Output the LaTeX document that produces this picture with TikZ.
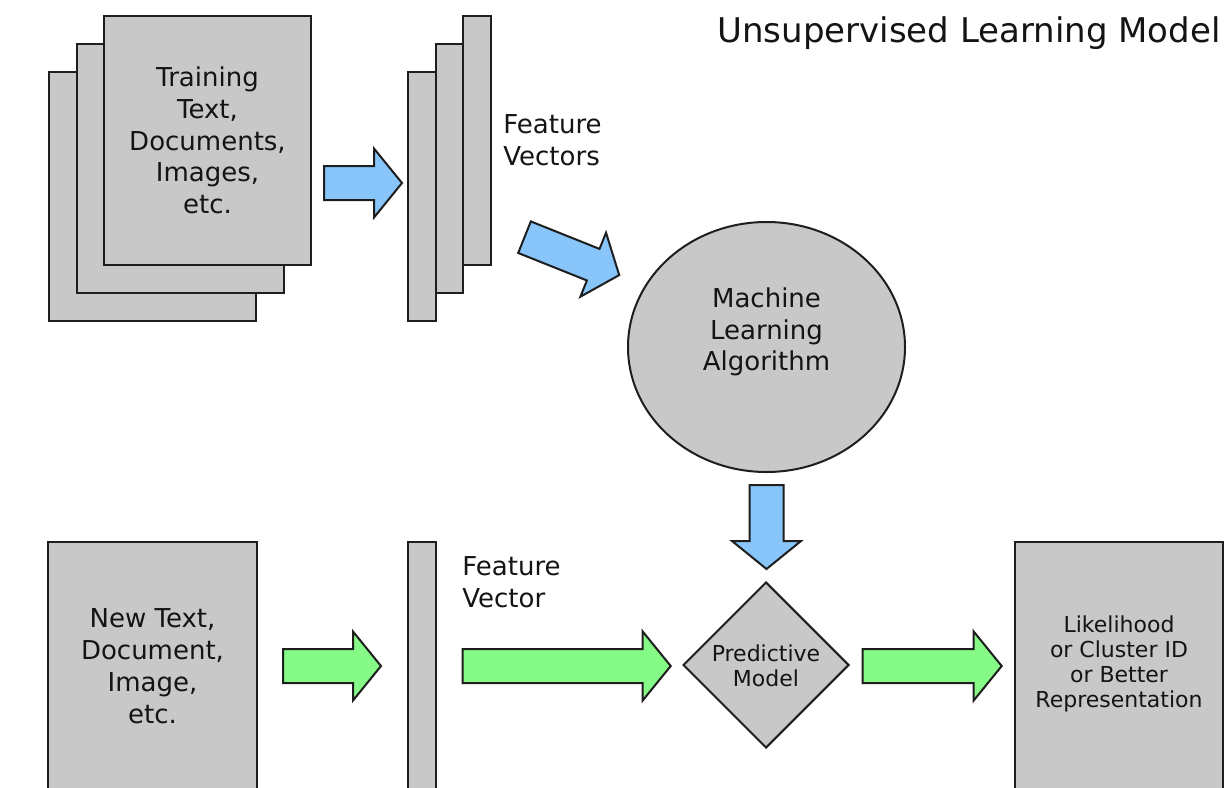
\documentclass[tikz,border=0pt]{standalone}
\usepackage{fontspec}
\setmainfont{DejaVu Sans}
\usetikzlibrary{shapes.geometric}
\definecolor{boxgray}{RGB}{200,200,200}
\definecolor{arrowblue}{RGB}{135,197,250}
\definecolor{arrowgreen}{RGB}{134,250,134}
\definecolor{edgecol}{RGB}{30,30,30}
\definecolor{txtcol}{RGB}{20,20,20}
\newcommand{\blockarrow}[5]{%
\begin{scope}[shift={(#1,#2)},rotate=#3]
\draw[arrowshape,fill=#5] (0,-17) -- ({#4-28},-17) -- ({#4-28},-34.5) -- (#4,0) -- ({#4-28},34.5) -- ({#4-28},17) -- (0,17) -- cycle;
\end{scope}}
\begin{document}
\begin{tikzpicture}[x=0.5pt,y=-0.5pt,
  docbox/.style={draw=edgecol,fill=boxgray,line width=1pt,rectangle,inner sep=0pt},
  bodytext/.style={font=\fontsize{13}{15.9}\selectfont,align=center,inner sep=0pt,text=txtcol},
  smalltext/.style={font=\fontsize{11}{12.4}\selectfont,align=center,inner sep=0pt,text=txtcol},
  arrowshape/.style={draw=edgecol,line width=1pt,line join=miter}]
\useasboundingbox (0,0) rectangle (1225,787);
\clip (0,0) rectangle (1225,787);
\fill[white] (0,0) rectangle (1225,787);

% training documents stack
\node[docbox,minimum width=103.5pt,minimum height=124.5pt] (tback) at (152.5,196.5) {};
\node[docbox,minimum width=103.5pt,minimum height=124.5pt] (tmid) at (180.5,168.5) {};
\node[docbox,minimum width=103.5pt,minimum height=124.5pt] (tfront) at (207.5,140.5) {};
\node[bodytext] (ttext) at (207.5,140.5) {Training\\Text,\\Documents,\\Images,\\etc.};

% feature vectors stack
\node[docbox,minimum width=14pt,minimum height=124.5pt] (fback) at (422,196.5) {};
\node[docbox,minimum width=13.5pt,minimum height=124.5pt] (fmid) at (449.5,168.5) {};
\node[docbox,minimum width=14pt,minimum height=124.5pt] (ffront) at (477,140.5) {};
\node[bodytext,anchor=west,align=left] (fvtext) at (503,140.5) {Feature\\Vectors};

% algorithm
\node[ellipse,draw=edgecol,fill=boxgray,line width=1pt,minimum width=138.5pt,minimum height=125pt,inner sep=0pt] (mla) at (766.5,347) {};
\node[bodytext] (mlatext) at (766.5,332) {Machine\\Learning\\Algorithm};

% title
\node[anchor=base east,inner sep=0pt,font=\fontsize{17}{20}\selectfont,text=txtcol] (title) at (1221,42) {Unsupervised Learning Model};

% bottom row
\node[docbox,minimum width=104.5pt,minimum height=124pt] (newbox) at (152.5,666) {};
\node[bodytext] (newtext) at (152.5,666) {New Text,\\Document,\\Image,\\etc.};
\node[docbox,minimum width=14pt,minimum height=124pt] (fvbar) at (422,666) {};
\node[bodytext,anchor=west,align=left] (fvtext2) at (462,582.5) {Feature\\Vector};
\node[diamond,draw=edgecol,fill=boxgray,line width=1pt,minimum width=83pt,minimum height=83pt,inner sep=0pt] (pm) at (766,665) {};
\node[smalltext] (pmtext) at (766,665.5) {Predictive\\Model};
\node[docbox,minimum width=104pt,minimum height=124pt] (result) at (1119,666) {};
\node[smalltext] (restext) at (1119,664) {Likelihood\\or Cluster ID\\or Better\\Representation};

% block arrows
\blockarrow{324}{183}{0}{78}{arrowblue}
\blockarrow{524.5}{237.2}{-21.8}{102}{arrowblue}
\blockarrow{766.5}{485}{-90}{84}{arrowblue}
\blockarrow{283}{666}{0}{98}{arrowgreen}
\blockarrow{462.7}{666}{0}{208}{arrowgreen}
\blockarrow{862.7}{666}{0}{139}{arrowgreen}
\end{tikzpicture}
\end{document}
